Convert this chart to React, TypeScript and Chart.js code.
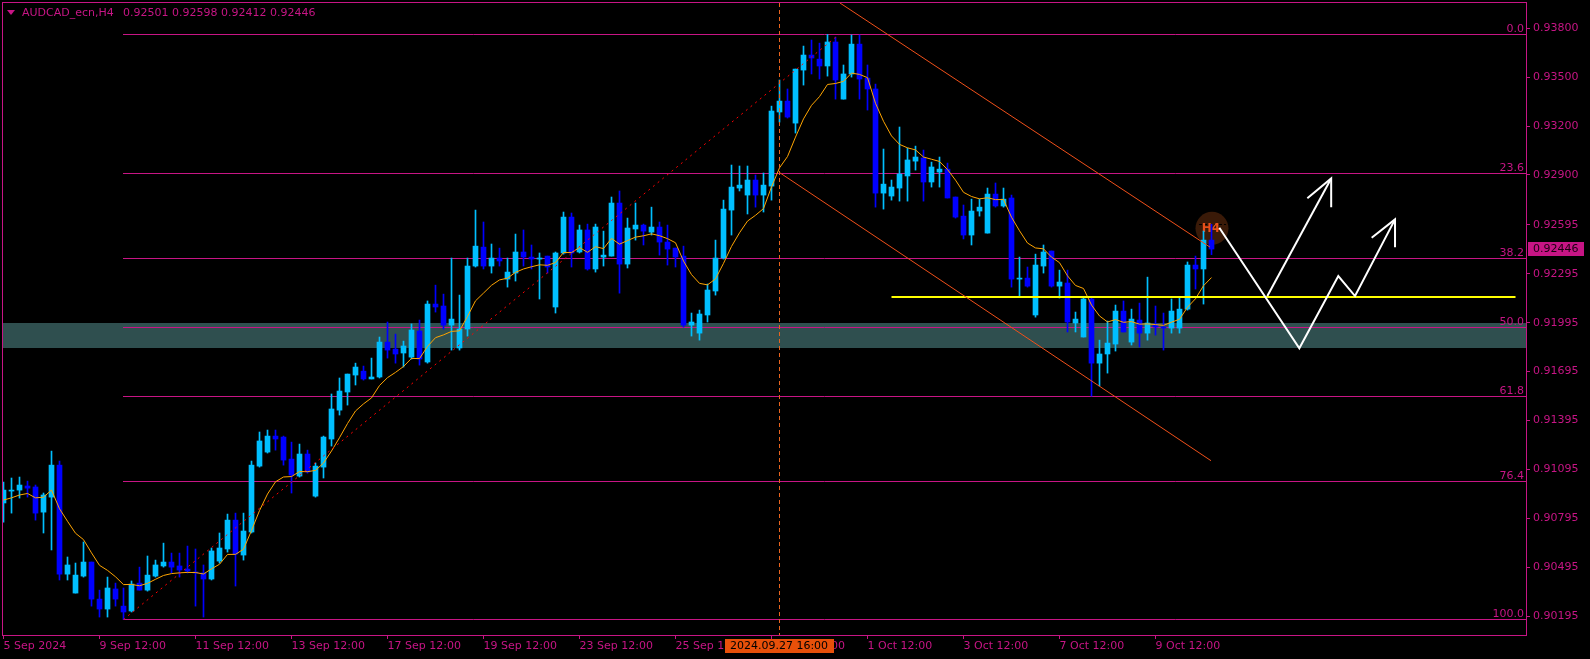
import { useEffect, useRef } from "react";
import { Chart, registerables } from "chart.js";

Chart.register(...registerables);

// ---------------- data (AUDCAD_ecn, H4) ----------------
const opens = [
  0.9089, 0.90963, 0.90969, 0.90994, 0.90988, 0.90834, 0.90926, 0.91122, 0.90454, 0.90338,
  0.90442, 0.90528, 0.90301, 0.9024, 0.90363, 0.90258, 0.90228, 0.90399, 0.90356, 0.90442,
  0.90504, 0.90528, 0.90504, 0.90485, 0.90467, 0.90461, 0.90424, 0.90534, 0.90608, 0.90785,
  0.90571, 0.90712, 0.91116, 0.91202, 0.913, 0.91294, 0.91159, 0.91055, 0.9119, 0.90932,
  0.9111, 0.91282, 0.91459, 0.9157, 0.91674, 0.91698, 0.9165, 0.91662, 0.91876, 0.91833,
  0.91809, 0.91784, 0.91944, 0.91754, 0.92109, 0.92097, 0.9198, 0.9184, 0.91956, 0.92342,
  0.92458, 0.92342, 0.92391, 0.92262, 0.92299, 0.92428, 0.92397, 0.92385, 0.92403, 0.92091,
  0.92422, 0.92642, 0.92428, 0.92563, 0.92324, 0.92397, 0.92403, 0.92728, 0.92354, 0.92569,
  0.92593, 0.9255, 0.92581, 0.92489, 0.92452, 0.92403, 0.9198, 0.91931, 0.92042, 0.92189,
  0.92391, 0.92685, 0.9282, 0.92777, 0.92869, 0.92777, 0.92832, 0.93286, 0.93353, 0.93218,
  0.93543, 0.93635, 0.9361, 0.93568, 0.93715, 0.93365, 0.93519, 0.93702, 0.93494, 0.93427,
  0.92789, 0.92771, 0.9282, 0.92894, 0.92985, 0.93004, 0.92857, 0.92918, 0.92936, 0.92765,
  0.92648, 0.92532, 0.92679, 0.92544, 0.92783, 0.9271, 0.92759, 0.92262, 0.92268, 0.92042,
  0.92342, 0.92434, 0.92219, 0.92238, 0.91993, 0.91907, 0.9214, 0.91747, 0.91803, 0.91864,
  0.92066, 0.91876, 0.92011, 0.91931, 0.91987, 0.91968, 0.91962, 0.91962, 0.92078, 0.92348,
  0.92324, 0.92501,
];
const highs = [
  0.91018, 0.91043, 0.91049, 0.91024, 0.91, 0.90951, 0.91208, 0.91147, 0.90559, 0.90522,
  0.90651, 0.90528, 0.90356, 0.90436, 0.90399, 0.90369, 0.90412, 0.90497, 0.90565, 0.9054,
  0.90644, 0.90583, 0.90583, 0.90626, 0.90608, 0.9051, 0.90614, 0.90706, 0.90822, 0.90828,
  0.90828, 0.91147, 0.91325, 0.91337, 0.91337, 0.913, 0.91263, 0.91251, 0.91214, 0.91135,
  0.913, 0.91558, 0.91656, 0.9168, 0.91747, 0.91729, 0.91778, 0.91907, 0.91999, 0.91925,
  0.91882, 0.91987, 0.92011, 0.92128, 0.92225, 0.9217, 0.92391, 0.92164, 0.92391, 0.92685,
  0.92612, 0.92477, 0.92452, 0.92391, 0.92538, 0.92563, 0.92471, 0.92422, 0.92403, 0.92428,
  0.92673, 0.92667, 0.92593, 0.92599, 0.92599, 0.92556, 0.92765, 0.92802, 0.92636, 0.92728,
  0.92599, 0.92703, 0.92612, 0.92593, 0.92452, 0.92464, 0.92054, 0.92072, 0.92232, 0.92501,
  0.92746, 0.92961, 0.92955, 0.92955, 0.929, 0.92912, 0.93322, 0.93482, 0.93427, 0.93549,
  0.9369, 0.93727, 0.93708, 0.93761, 0.93745, 0.93574, 0.93758, 0.93758, 0.93574, 0.93457,
  0.93059, 0.92869, 0.93194, 0.93065, 0.93077, 0.93053, 0.92979, 0.9301, 0.92973, 0.92765,
  0.92716, 0.92752, 0.92752, 0.9282, 0.92851, 0.9282, 0.92777, 0.92397, 0.92336, 0.92415,
  0.92471, 0.92434, 0.92317, 0.92317, 0.9206, 0.92146, 0.92146, 0.91888, 0.92005, 0.92103,
  0.92128, 0.92078, 0.92115, 0.92274, 0.92097, 0.92054, 0.9214, 0.92146, 0.92367, 0.92403,
  0.92556, 0.92598,
];
const lows = [
  0.90773, 0.90828, 0.9092, 0.90926, 0.90785, 0.90706, 0.90602, 0.90418, 0.90418, 0.90338,
  0.90436, 0.90258, 0.90191, 0.90191, 0.90258, 0.90176, 0.90222, 0.90356, 0.9035, 0.90436,
  0.90497, 0.90461, 0.90436, 0.90461, 0.90258, 0.90191, 0.90418, 0.90522, 0.90589, 0.90381,
  0.9054, 0.90706, 0.9111, 0.91196, 0.91214, 0.91122, 0.90951, 0.91049, 0.91073, 0.90926,
  0.91043, 0.91239, 0.91429, 0.9149, 0.91613, 0.91643, 0.9165, 0.91656, 0.91778, 0.91747,
  0.91723, 0.91772, 0.91735, 0.91747, 0.9206, 0.91956, 0.91827, 0.91827, 0.91913, 0.92336,
  0.92324, 0.92299, 0.92342, 0.92213, 0.9225, 0.92342, 0.92324, 0.9214, 0.92299, 0.92054,
  0.92415, 0.92336, 0.92422, 0.92317, 0.92305, 0.92342, 0.92403, 0.92176, 0.9233, 0.92501,
  0.92471, 0.92532, 0.92409, 0.92348, 0.92336, 0.91968, 0.91913, 0.91888, 0.91999, 0.92164,
  0.92385, 0.92532, 0.92802, 0.92661, 0.92703, 0.92673, 0.92746, 0.93224, 0.93249, 0.93157,
  0.93451, 0.93519, 0.93488, 0.93506, 0.93365, 0.93365, 0.935, 0.93365, 0.93298, 0.92703,
  0.92691, 0.92746, 0.9274, 0.9274, 0.9293, 0.9274, 0.92826, 0.92826, 0.92759, 0.92636,
  0.92508, 0.92471, 0.92648, 0.92544, 0.92703, 0.92703, 0.92213, 0.92158, 0.92213, 0.92029,
  0.92299, 0.92213, 0.92146, 0.91938, 0.91938, 0.91907, 0.91545, 0.91607, 0.91686, 0.91821,
  0.91938, 0.91858, 0.91846, 0.91888, 0.91919, 0.91827, 0.91931, 0.91931, 0.92072, 0.92201,
  0.92109, 0.92412,
];
const closes = [
  0.90969, 0.90969, 0.91, 0.90981, 0.90828, 0.90939, 0.91122, 0.90454, 0.9051, 0.90448,
  0.90528, 0.90301, 0.9024, 0.90369, 0.90301, 0.90222, 0.90393, 0.90356, 0.90448, 0.9051,
  0.90528, 0.90497, 0.90479, 0.90473, 0.90461, 0.90424, 0.90596, 0.90614, 0.90785, 0.90577,
  0.90718, 0.91122, 0.9127, 0.913, 0.91282, 0.91153, 0.91061, 0.9119, 0.9108, 0.91116,
  0.91294, 0.91466, 0.91576, 0.9168, 0.91723, 0.9165, 0.91662, 0.91876, 0.91827, 0.91803,
  0.91852, 0.9195, 0.91772, 0.92109, 0.92091, 0.9198, 0.92017, 0.91956, 0.92342, 0.92464,
  0.92342, 0.92391, 0.92373, 0.92305, 0.92428, 0.92397, 0.92385, 0.92391, 0.92336, 0.92422,
  0.92642, 0.92422, 0.92563, 0.92324, 0.92581, 0.92409, 0.92728, 0.92354, 0.92575, 0.92593,
  0.92556, 0.92581, 0.92489, 0.92446, 0.92397, 0.9198, 0.91999, 0.92048, 0.92195, 0.92391,
  0.92691, 0.92826, 0.92838, 0.92869, 0.92777, 0.92838, 0.93292, 0.93353, 0.93255, 0.93549,
  0.93635, 0.93617, 0.93568, 0.93715, 0.93482, 0.93519, 0.93702, 0.93488, 0.93427, 0.92789,
  0.92844, 0.92826, 0.92906, 0.92992, 0.9301, 0.92857, 0.92949, 0.92936, 0.92759, 0.92642,
  0.92532, 0.92679, 0.92703, 0.92783, 0.9271, 0.92752, 0.92262, 0.92268, 0.92219, 0.92348,
  0.92428, 0.92219, 0.92244, 0.91999, 0.92017, 0.9214, 0.91747, 0.91803, 0.9187, 0.92066,
  0.91938, 0.92017, 0.91931, 0.91993, 0.91968, 0.91962, 0.92066, 0.92078, 0.92348, 0.92324,
  0.92501, 0.92446,
];

// moving average (EMA 8 of the closes), value at the first visible bar
const maPeriod = 8;
const maStart = 0.90908;

// axes
const xTickIdx = [0, 12, 24, 36, 48, 60, 72, 84, 96, 108, 120, 132, 144];
const xTickLabels = [
  "5 Sep 2024", "9 Sep 12:00", "11 Sep 12:00", "13 Sep 12:00", "17 Sep 12:00", "19 Sep 12:00",
  "23 Sep 12:00", "25 Sep 12:00", "27 Sep 12:00", "1 Oct 12:00", "3 Oct 12:00", "7 Oct 12:00",
  "9 Oct 12:00",
];
const yTickValues = [
  0.938, 0.935, 0.932, 0.929, 0.92595, 0.92295, 0.91995, 0.91695, 0.91395, 0.91095, 0.90795,
  0.90495, 0.90195,
];
const xRange = [-0.0625, 190.3125];
const yRange = [0.90081, 0.93954];

// drawn objects (bar index, price)
const fibLevels = [0.93761, 0.92915, 0.92392, 0.91969, 0.91545, 0.91022, 0.90176];
const fibLabels = ["0.0", "23.6", "38.2", "50.0", "61.8", "76.4", "100.0"];
const fibStartIdx = 15;
const fibDiagonal = [[15, 0.90176], [104.44, 0.93761]];
const zonePrices = [0.91992, 0.91841];
const yellowLine = [[111, 0.92153], [189, 0.92153]];
const channelUpper = [[104.56, 0.93954], [150.81, 0.92458]];
const channelLower = [[96.97, 0.92916], [150.94, 0.91149]];
const vLineIdx = 97;
const vLineLabel = "2024.09.27 16:00";
const arrowPath1 = [[151.98, 0.92577], [161.98, 0.91838], [166.85, 0.92281], [168.94, 0.92158], [173.94, 0.92628]];
const arrowHead1 = [[171.02, 0.92515], [173.94, 0.92628], [173.94, 0.92457]];
const arrowPath2 = [[157.98, 0.92158], [165.96, 0.92879]];
const arrowHead2 = [[162.98, 0.92757], [165.96, 0.92879], [165.96, 0.92702]];
const h4Mark = [151.06, 0.92573];
const symbolTitle = "AUDCAD_ecn,H4";

// ---------------- styles ----------------
const MAGENTA = "#C71585";
const BULL = "#00BFFF";
const BEAR = "#0000FF";
const FONT = "DejaVu Sans";

function computeEma(values: number[], start: number, period: number) {
  const k = 2 / (period + 1);
  const out: number[] = [];
  let prev = start;
  values.forEach((v, i) => {
    prev = i === 0 ? start : prev + k * (v - prev);
    out.push(prev);
  });
  return out;
}

const overlayPlugin = {
  id: "mtOverlay",
  beforeDraw(chart: any) {
    const ctx = chart.ctx;
    ctx.save();
    ctx.fillStyle = "#000";
    ctx.fillRect(0, 0, chart.width, chart.height);
    ctx.restore();
  },
  beforeDatasetsDraw(chart: any) {
    const ctx = chart.ctx;
    const xs = chart.scales.x;
    const ys = chart.scales.y;
    const a = chart.chartArea;
    const px = (v: number) => xs.getPixelForValue(v);
    const py = (v: number) => ys.getPixelForValue(v);
    ctx.save();
    // zone
    const zt = py(zonePrices[0]);
    const zb = py(zonePrices[1]);
    ctx.fillStyle = "#2F4F4F";
    ctx.fillRect(a.left, Math.round(zt), a.right - a.left, Math.round(zb) - Math.round(zt));
    // fib levels
    ctx.strokeStyle = MAGENTA;
    ctx.lineWidth = 1;
    ctx.font = `11px "${FONT}"`;
    ctx.fillStyle = MAGENTA;
    ctx.textAlign = "right";
    ctx.textBaseline = "alphabetic";
    const x0 = Math.round(px(fibStartIdx - 0.0625));
    fibLevels.forEach((lv, i) => {
      const y = Math.round(py(lv)) + 0.5;
      ctx.beginPath();
      ctx.moveTo(x0, y);
      ctx.lineTo(a.right, y);
      ctx.stroke();
      ctx.fillText(fibLabels[i], a.right - 2, y - 2.5);
    });
    // H4 mark
    const cx = px(h4Mark[0]);
    const cy = py(h4Mark[1]);
    ctx.fillStyle = "#3A1A08";
    ctx.beginPath();
    ctx.arc(cx, cy, 16.5, 0, Math.PI * 2);
    ctx.fill();
    ctx.strokeStyle = "#000";
    ctx.setLineDash([3, 2]);
    ctx.beginPath();
    ctx.moveTo(cx - 13, Math.round(cy - 4) + 0.5);
    ctx.lineTo(cx + 14, Math.round(cy - 4) + 0.5);
    ctx.stroke();
    ctx.setLineDash([]);
    ctx.fillStyle = "#E8501A";
    ctx.font = `bold 12px "${FONT}"`;
    ctx.textAlign = "center";
    ctx.textBaseline = "middle";
    ctx.fillText("H4", cx - 1, cy + 1);
    ctx.restore();
  },
  afterDatasetsDraw(chart: any) {
    const ctx = chart.ctx;
    const xs = chart.scales.x;
    const ys = chart.scales.y;
    const a = chart.chartArea;
    const px = (v: number) => xs.getPixelForValue(v);
    const py = (v: number) => ys.getPixelForValue(v);
    const line = (pts: number[][]) => {
      ctx.beginPath();
      pts.forEach((p, i) => {
        const X = px(p[0]);
        const Y = py(p[1]);
        if (i === 0) ctx.moveTo(X, Y);
        else ctx.lineTo(X, Y);
      });
      ctx.stroke();
    };
    ctx.save();
    ctx.beginPath();
    ctx.rect(a.left, a.top, a.right - a.left, a.bottom - a.top);
    ctx.clip();
    // yellow line
    ctx.fillStyle = "#FFFF00";
    const yy = Math.round(py(yellowLine[0][1]));
    ctx.fillRect(px(yellowLine[0][0]), yy - 1, px(yellowLine[1][0]) - px(yellowLine[0][0]), 2);
    // channel
    ctx.strokeStyle = "#F0501A";
    ctx.lineWidth = 1;
    line(channelUpper);
    line(channelLower);
    // fib diagonal
    ctx.strokeStyle = "#FF0000";
    ctx.setLineDash([2, 4]);
    line(fibDiagonal);
    // vertical dashed
    ctx.strokeStyle = "#E8641E";
    ctx.setLineDash([4, 3]);
    const vx = Math.round(px(vLineIdx)) - 0.5;
    ctx.beginPath();
    ctx.moveTo(vx, a.top);
    ctx.lineTo(vx, a.bottom);
    ctx.stroke();
    ctx.setLineDash([]);
    // white arrows
    ctx.strokeStyle = "#FFFFFF";
    ctx.lineWidth = 2;
    ctx.lineJoin = "miter";
    line(arrowPath1);
    line(arrowHead1);
    line(arrowPath2);
    line(arrowHead2);
    ctx.restore();
  },
  afterDraw(chart: any) {
    const ctx = chart.ctx;
    const xs = chart.scales.x;
    const ys = chart.scales.y;
    const a = chart.chartArea;
    ctx.save();
    // frame
    ctx.strokeStyle = MAGENTA;
    ctx.lineWidth = 1;
    ctx.strokeRect(a.left - 0.5, a.top - 0.5, a.right - a.left + 1, a.bottom - a.top + 1);
    ctx.font = `11px "${FONT}"`;
    // current price label
    const last = closes.length - 1;
    const cy = Math.round(ys.getPixelForValue(closes[last]));
    ctx.fillStyle = MAGENTA;
    ctx.fillRect(a.right + 2, cy - 7, 56, 14);
    ctx.fillStyle = "#1A0010";
    ctx.textAlign = "left";
    ctx.textBaseline = "middle";
    ctx.fillText(closes[last].toFixed(5), a.right + 7, cy);
    // vertical line time label
    const vx = Math.round(xs.getPixelForValue(vLineIdx));
    ctx.fillStyle = "#E8500A";
    ctx.fillRect(vx - 55, a.bottom + 4, 109, 14);
    ctx.fillStyle = "#000";
    ctx.textAlign = "center";
    ctx.fillText(vLineLabel, vx - 1, a.bottom + 11.5);
    // title
    ctx.fillStyle = MAGENTA;
    ctx.beginPath();
    ctx.moveTo(7, 10);
    ctx.lineTo(15, 10);
    ctx.lineTo(11, 15);
    ctx.closePath();
    ctx.fill();
    ctx.textAlign = "left";
    ctx.textBaseline = "middle";
    ctx.fillText(symbolTitle, 22, 13);
    const ohlc = [opens[last], highs[last], lows[last], closes[last]].map((v) => v.toFixed(5)).join(" ");
    ctx.fillText(ohlc, 123, 13);
    ctx.restore();
  },
};

export default function App() {
  const ref = useRef<HTMLCanvasElement | null>(null);
  useEffect(() => {
    document.body.style.margin = "0";
    document.body.style.background = "#000";
    const ma = computeEma(closes, maStart, maPeriod);
    const colors = opens.map((o, i) => (closes[i] >= o ? BULL : BEAR));
    const chart = new Chart(ref.current as HTMLCanvasElement, {
      type: "bar",
      data: {
        datasets: [
          {
            type: "line",
            label: "EMA",
            data: ma.map((v, i) => ({ x: i, y: v })),
            borderColor: "#FFA500",
            borderWidth: 1,
            pointRadius: 0,
            tension: 0,
          } as any,
          {
            type: "bar",
            label: "body",
            data: opens.map((o, i) => ({ x: i, y: [o, closes[i]] })),
            backgroundColor: colors,
            borderWidth: 0,
            barThickness: 5,
            minBarLength: 1,
            grouped: false,
          } as any,
          {
            type: "bar",
            label: "wick",
            data: lows.map((l, i) => ({ x: i, y: [l, highs[i]] })),
            backgroundColor: colors,
            borderWidth: 0,
            barThickness: 1,
            grouped: false,
          } as any,
        ],
      },
      options: {
        animation: false,
        responsive: true,
        maintainAspectRatio: false,
        devicePixelRatio: 1,
        layout: { padding: { left: 3, top: 3, right: 0, bottom: 0 } },
        plugins: { legend: { display: false }, tooltip: { enabled: false } },
        scales: {
          x: {
            type: "linear",
            min: xRange[0],
            max: xRange[1],
            offset: false,
            grid: { drawOnChartArea: false, drawTicks: true, tickLength: 4, color: MAGENTA, offset: false },
            border: { display: false },
            afterBuildTicks: (s: any) => {
              s.ticks = xTickIdx.map((v) => ({ value: v }));
            },
            afterFit: (s: any) => {
              s.height = 24;
              s.paddingLeft = 0;
              s.paddingRight = 0;
              s.paddingTop = 0;
              s.paddingBottom = 0;
            },
            ticks: {
              autoSkip: false,
              maxRotation: 0,
              minRotation: 0,
              align: "start",
              padding: 1,
              color: MAGENTA,
              font: { family: FONT, size: 11 },
              callback: (_v: any, i: number) => xTickLabels[i] ?? "",
            },
          },
          y: {
            type: "linear",
            position: "right",
            min: yRange[0],
            max: yRange[1],
            grid: { drawOnChartArea: false, drawTicks: true, tickLength: 4, color: MAGENTA },
            border: { display: false },
            afterBuildTicks: (s: any) => {
              s.ticks = yTickValues.map((v) => ({ value: v }));
            },
            afterFit: (s: any) => {
              s.width = 64;
              s.paddingTop = 0;
              s.paddingBottom = 0;
              s.paddingLeft = 0;
              s.paddingRight = 0;
            },
            ticks: {
              autoSkip: false,
              padding: 3,
              color: MAGENTA,
              font: { family: FONT, size: 11 },
              callback: (v: any) => Number(v).toFixed(5),
            },
          },
        },
      } as any,
      plugins: [overlayPlugin],
    });
    return () => chart.destroy();
  }, []);
  return (
    <div style={{ width: 1590, height: 659, position: "relative" }}>
      <canvas ref={ref} />
    </div>
  );
}
